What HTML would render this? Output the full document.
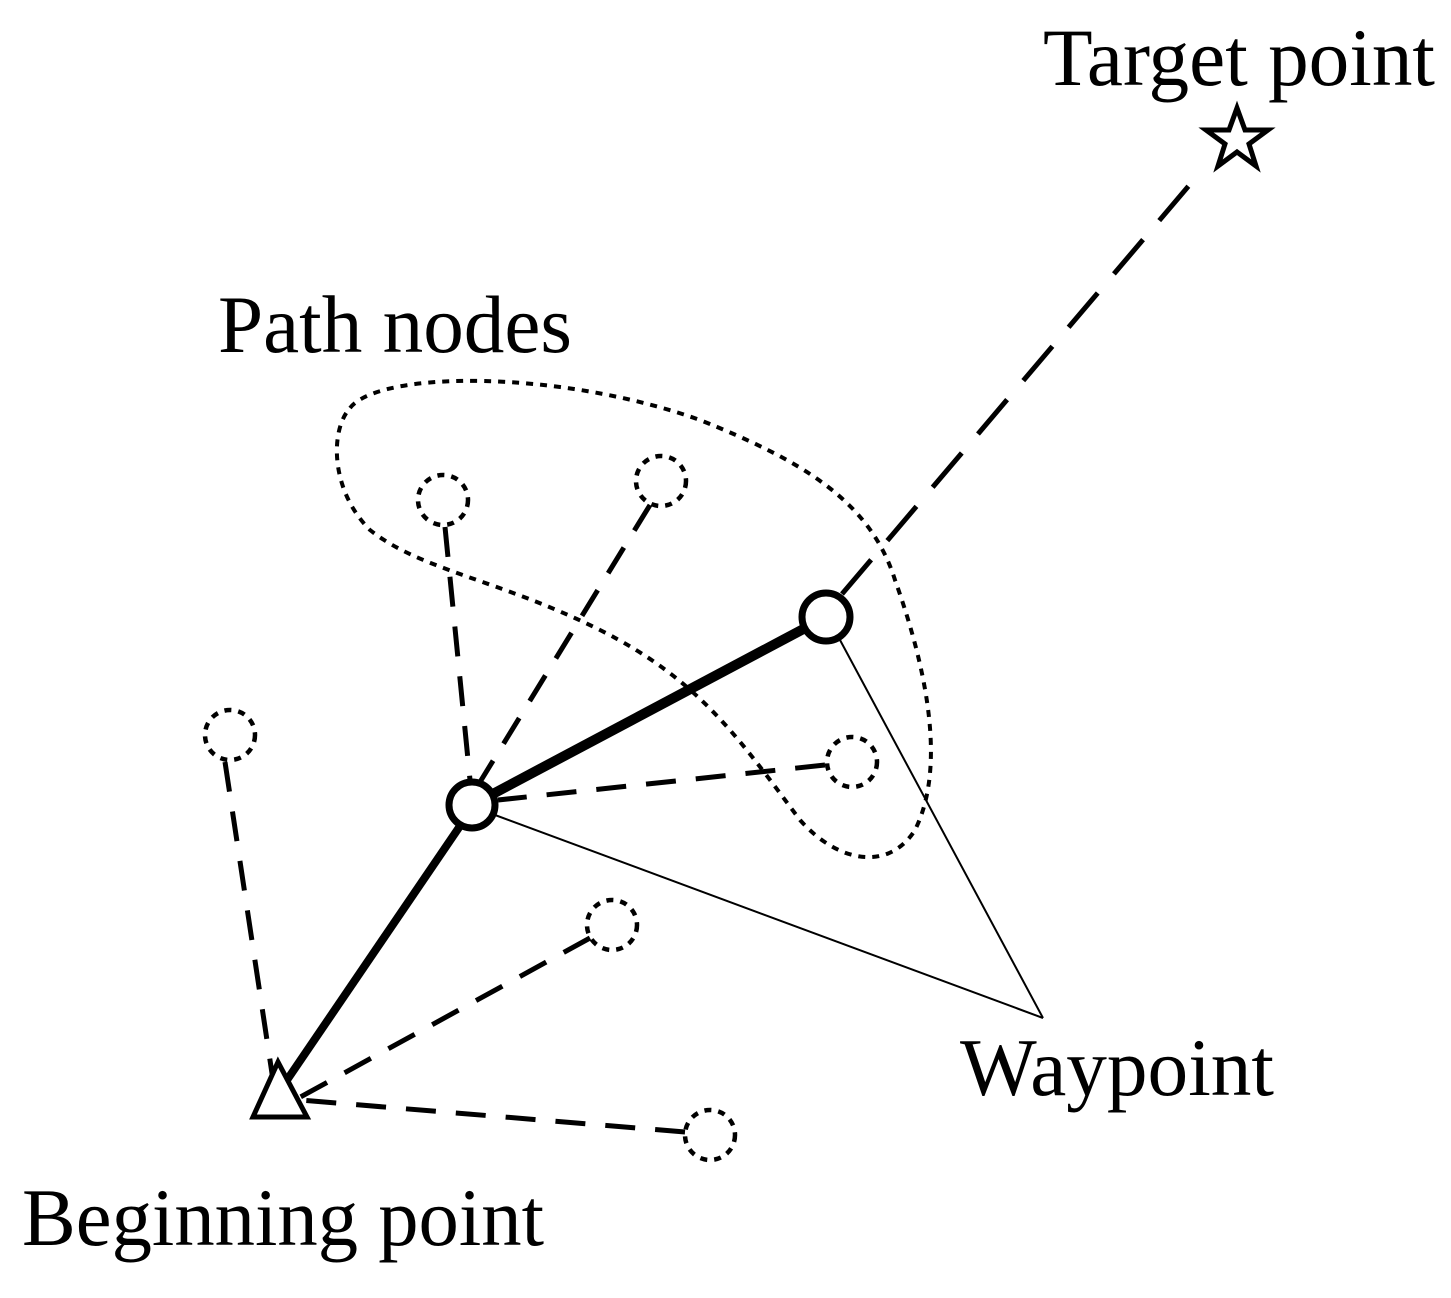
<!DOCTYPE html>
<html><head><style>body{margin:0;background:#fff}</style></head><body>
<svg width="1451" height="1293" viewBox="0 0 1451 1293" xmlns="http://www.w3.org/2000/svg" font-family="Liberation Serif, serif" font-size="82">
<rect width="1451" height="1293" fill="#fff"/>
<text x="1043" y="85" textLength="392" lengthAdjust="spacingAndGlyphs">Target point</text>
<text x="218" y="352" textLength="354" lengthAdjust="spacingAndGlyphs">Path nodes</text>
<text x="960" y="1095" textLength="314" lengthAdjust="spacingAndGlyphs">Waypoint</text>
<text x="22" y="1245" textLength="522" lengthAdjust="spacingAndGlyphs">Beginning point</text>
<g fill="none" stroke="#000">
<path d="M1237,108 L1245,130 L1268,130 L1249,144 L1256,166 L1237,152 L1218,166 L1225,144 L1206,130 L1229,130 Z" stroke-width="5"/>
<line x1="842" y1="594" x2="1192" y2="182" stroke-width="5" stroke-dasharray="45,25"/>
<path d="M350,408 C380,370 560,370 700,420 C800,460 870,500 895,580 C920,650 950,760 915,830 C890,870 840,865 800,820 C740,740 700,680 600,630 C500,580 420,570 370,530 C330,490 330,430 350,408 Z" stroke-width="4" stroke-dasharray="7,7"/>
<line x1="495" y1="815" x2="1043" y2="1018" stroke-width="2"/>
<line x1="840" y1="640" x2="1043" y2="1018" stroke-width="2"/>
<g stroke-width="4.5" stroke-dasharray="7,7">
<circle cx="443" cy="500" r="25"/><circle cx="661" cy="481" r="25"/><circle cx="230" cy="735" r="25"/>
<circle cx="852" cy="762" r="25"/><circle cx="612" cy="925" r="25"/><circle cx="710" cy="1135" r="25"/>
</g>
<g stroke-width="5" stroke-dasharray="30,20">
<line x1="445" y1="527" x2="470" y2="780"/>
<line x1="650" y1="505" x2="480" y2="782"/>
<line x1="825" y1="765" x2="498" y2="800"/>
<line x1="225" y1="762" x2="273" y2="1080"/>
<line x1="590" y1="938" x2="295" y2="1100"/>
<line x1="685" y1="1132" x2="300" y2="1100"/>
</g>
<line x1="472" y1="805" x2="826" y2="617" stroke-width="10"/>
<line x1="460" y1="826" x2="270" y2="1105" stroke-width="8"/>
<circle cx="472" cy="805" r="23" fill="#fff" stroke-width="7"/>
<circle cx="826" cy="617" r="24" fill="#fff" stroke-width="7"/>
<path d="M278,1062 L253,1117 L307,1117 Z" fill="#fff" stroke-width="5"/>
</g>
</svg>
</body></html>
